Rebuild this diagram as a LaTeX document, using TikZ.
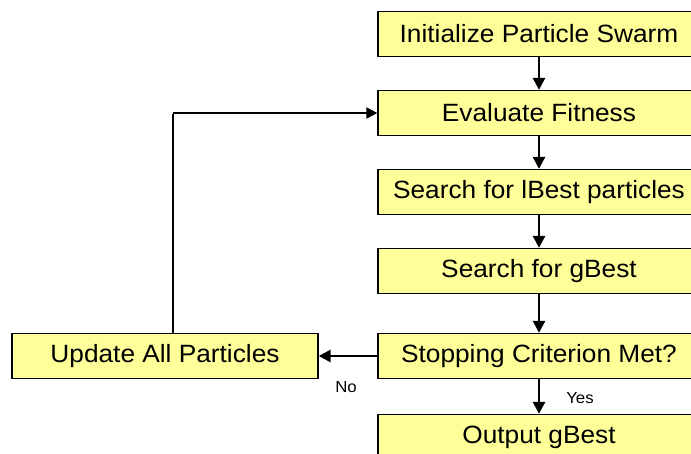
\documentclass[tikz,border=0pt]{standalone}
\usepackage{fontspec}
\setmainfont{Liberation Sans}[FakeStretch=1.05]
\usetikzlibrary{arrows.meta}
\begin{document}
\begin{tikzpicture}[x=1pt,y=-1pt,
  stepbox/.style={draw=black,line width=1.3pt,fill=boxyellow,minimum height=45pt,
    inner sep=0pt,font=\fontsize{25}{30}\selectfont},
  flow/.style={line width=2.6pt,-{Triangle[length=12pt,width=12pt]}},
  lbl/.style={font=\fontsize{16}{19}\selectfont,inner sep=0pt}]
\definecolor{boxyellow}{RGB}{255,255,153}
\useasboundingbox (0,0) rectangle (691,454);
\clip (0,0) rectangle (691,454);
% main column of process steps
\node[stepbox,minimum width=322pt] (init) at (539,34) {Initialize Particle Swarm};
\node[stepbox,minimum width=322pt] (eval) at (539,113) {Evaluate Fitness};
\node[stepbox,minimum width=322pt] (lbest) at (539,192) {Search for lBest particles};
\node[stepbox,minimum width=322pt] (gbest) at (539,271) {Search for gBest};
\node[stepbox,minimum width=322pt] (stop) at (539,356) {Stopping Criterion Met?};
\node[stepbox,minimum width=322pt] (out) at (539,437) {Output gBest};
% update step on the left
\node[stepbox,minimum width=306pt] (upd) at (165,356) {Update All Particles};
\coordinate (fb) at (173,113);
% connectors
\draw[flow] (init) -- (eval);
\draw[flow] (eval) -- (lbest);
\draw[flow] (lbest) -- (gbest);
\draw[flow] (gbest) -- (stop);
\draw[flow] (stop) -- (out);
\draw[flow] (stop) -- (upd);
% feedback loop back to the fitness evaluation
\draw[line width=1.3pt] (upd.north -| fb) -- ([yshift=-0.65pt]fb);
\draw[line width=2pt,-{Triangle[length=11pt,width=11pt]}] (fb) -- (eval.west);
% branch labels
\node[lbl] (no) at (346,387) {No};
\node[lbl] (yes) at (580,398) {Yes};
\end{tikzpicture}
\end{document}
